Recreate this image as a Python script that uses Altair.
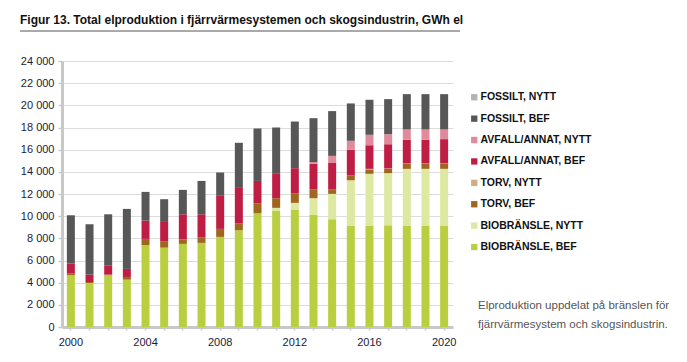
import altair as alt
import pandas as pd

years = list(range(2000, 2021))
bio_bef =     [4670, 3970, 4670, 4270, 7400, 7160, 7500, 7590, 8130, 8730, 10260, 10470, 10600, 10110, 9720, 9120, 9120, 9180, 9120, 9130, 9150]
bio_nytt =    [0, 0, 0, 0, 0, 0, 0, 0, 0, 0, 0, 280, 600, 1510, 2290, 4120, 4700, 4700, 5150, 5140, 5120]
torv_bef =    [150, 90, 60, 245, 550, 540, 410, 510, 720, 630, 880, 870, 870, 810, 420, 430, 400, 380, 440, 440, 440]
torv_nytt =   [0, 0, 0, 0, 0, 0, 0, 0, 0, 0, 0, 0, 0, 0, 0, 0, 50, 40, 40, 40, 40]
avfall_bef =  [900, 670, 840, 725, 1650, 1780, 2260, 2070, 3040, 3190, 2040, 2200, 2260, 2290, 2410, 2310, 2130, 2190, 2140, 2140, 2200]
avfall_nytt = [0, 0, 0, 0, 0, 0, 0, 0, 0, 0, 0, 0, 0, 150, 600, 820, 940, 910, 930, 930, 870]
fossilt_bef = [4360, 4540, 4600, 5415, 2590, 2050, 2200, 3010, 2050, 4070, 4730, 4180, 4210, 3970, 4040, 3370, 3160, 3160, 3190, 3190, 3190]
fossilt_nytt = [0] * 21

title_text = "Figur 13. Total elproduktion i fjärrvärmesystemen och skogsindustrin, GWh el"
note_text = "Elproduktion uppdelat på bränslen för\nfjärrvärmesystem och skogsindustrin."

series = [
    ("BIOBRÄNSLE, BEF", bio_bef, "#b9cf3f"),
    ("BIOBRÄNSLE, NYTT", bio_nytt, "#dde8a0"),
    ("TORV, BEF", torv_bef, "#a0651e"),
    ("TORV, NYTT", torv_nytt, "#cfae86"),
    ("AVFALL/ANNAT, BEF", avfall_bef, "#c01d44"),
    ("AVFALL/ANNAT, NYTT", avfall_nytt, "#e08b9c"),
    ("FOSSILT, BEF", fossilt_bef, "#575757"),
    ("FOSSILT, NYTT", fossilt_nytt, "#b3b3b3"),
]

rows = []
for i, (name, vals, _) in enumerate(series):
    for y, v in zip(years, vals):
        rows.append({"year": y, "serie": name, "value": v, "ord": i})
df = pd.DataFrame(rows)

names = [s[0] for s in series]
colors = [s[2] for s in series]
legend_order = names[::-1]

bars = alt.Chart(df).mark_bar(width=8).encode(
    x=alt.X("year:O", title=None,
            scale=alt.Scale(paddingInner=0.55, paddingOuter=0.25),
            axis=alt.Axis(labelExpr="datum.value % 4 == 0 ? datum.value : ''",
                          labelAngle=0, labelFontSize=11, labelColor="#1a1a3a",
                          labelFont="Liberation Sans", labelPadding=6,
                          domainColor="#c8c8c8", domainWidth=3,
                          tickColor="#c8c8c8", tickSize=3, tickWidth=1.5,
                          grid=False)),
    y=alt.Y("value:Q", title=None, stack="zero",
            scale=alt.Scale(domain=[0, 24000], nice=False),
            axis=alt.Axis(values=list(range(0, 24001, 2000)),
                          labelExpr="replace(format(datum.value, ','), ',', ' ')",
                          labelFontSize=11, labelColor="#1a1a3a", labelFont="Liberation Sans",
                          labelPadding=4,
                          domainColor="#c8c8c8", domainWidth=3,
                          tickColor="#c8c8c8", tickSize=4, tickWidth=1.5,
                          gridColor="#dcdcdc", gridWidth=1)),
    color=alt.Color("serie:N",
                    scale=alt.Scale(domain=names, range=colors),
                    sort=legend_order,
                    legend=alt.Legend(title=None, orient="none", legendX=407, legendY=31,
                                      values=legend_order,
                                      symbolType="square", symbolSize=40, symbolStrokeWidth=0,
                                      labelFontSize=10.5, labelFontWeight="bold",
                                      labelFont="Liberation Sans", labelColor="#111111",
                                      labelOffset=1, rowPadding=10.4)),
    order=alt.Order("ord:Q", sort="ascending"),
)

one = pd.DataFrame({"a": [0]})

underline = alt.Chart(one).mark_rule(color="#555555", strokeWidth=1).encode(
    x=alt.value(-42), x2=alt.value(398), y=alt.value(-30))

title = alt.Chart(one).mark_text(align="left", baseline="alphabetic", fontSize=12,
                                 fontWeight="bold", font="Liberation Sans",
                                 color="#111111", text=title_text).encode(
    x=alt.value(-42), y=alt.value(-37))

note = alt.Chart(one).mark_text(align="left", baseline="alphabetic", fontSize=11.5,
                                font="Liberation Sans", color="#555555",
                                text=note_text, lineBreak="\n", lineHeight=19).encode(
    x=alt.value(416), y=alt.value(248))

chart = alt.layer(bars, underline, title, note).properties(
    width=391, height=266,
    padding={"left": 54, "top": 53, "right": 226, "bottom": 27},
    autosize=alt.AutoSizeParams(type="none"),
).configure_view(stroke=None).configure_axis(labelFont="Liberation Sans")

chart.save("out.html", embed_options={"renderer": "svg", "actions": False})
